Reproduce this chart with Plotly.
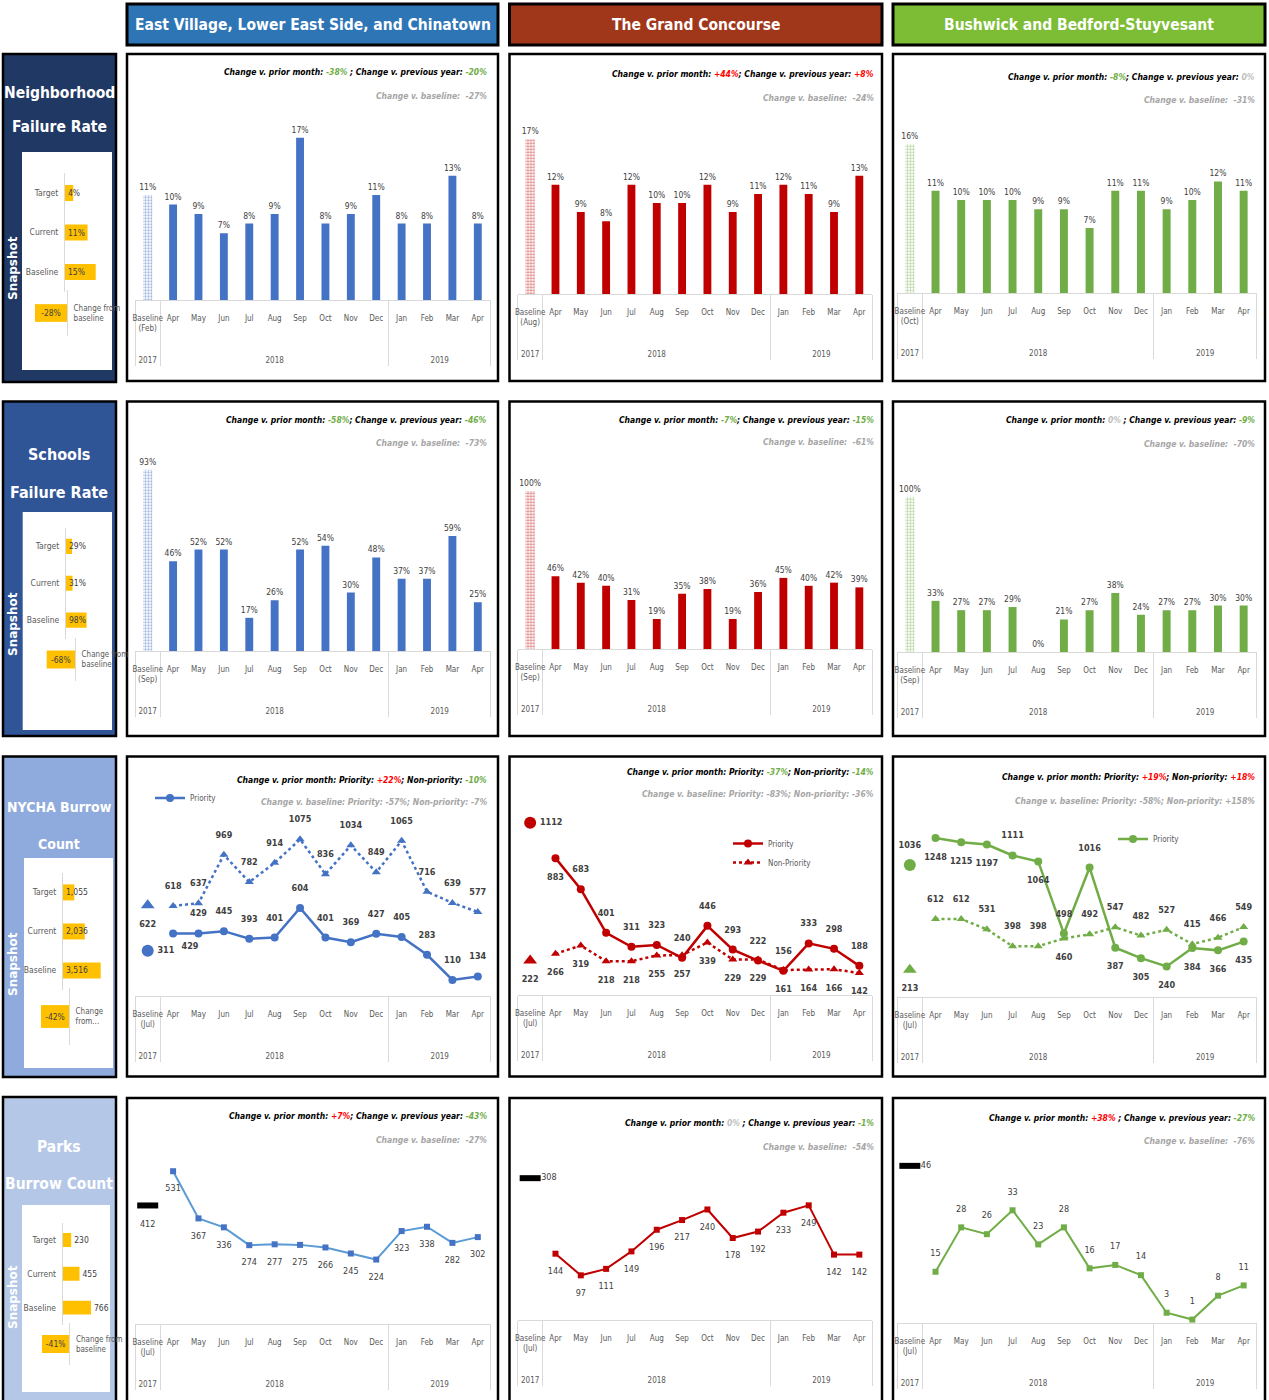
import plotly.graph_objects as go

# ======================= DATA =======================
regions = ["East Village, Lower East Side, and Chinatown",
           "The Grand Concourse",
           "Bushwick and Bedford-Stuyvesant"]
metric_titles = [["Neighborhood", "Failure Rate"], ["Schools", "Failure Rate"],
                 ["NYCHA Burrow", "Count"], ["Parks", "Burrow Count"]]
months = ["Apr", "May", "Jun", "Jul", "Aug", "Sep", "Oct", "Nov", "Dec", "Jan", "Feb", "Mar", "Apr"]
month_years = ["2018"] * 9 + ["2019"] * 4
baseline_year = "2017"

# Neighborhood failure rate
nfr_baseline_month = ["Feb", "Aug", "Oct"]
nfr_baseline = [0.11, 0.17, 0.16]
nfr_ev = [0.10, 0.09, 0.07, 0.08, 0.09, 0.17, 0.08, 0.09, 0.11, 0.08, 0.08, 0.13, 0.08]
nfr_gc = [0.12, 0.09, 0.08, 0.12, 0.10, 0.10, 0.12, 0.09, 0.11, 0.12, 0.11, 0.09, 0.13]
nfr_bb = [0.11, 0.10, 0.10, 0.10, 0.09, 0.09, 0.07, 0.11, 0.11, 0.09, 0.10, 0.12, 0.11]
nfr_prior = ["-38%", "+44%", "-8%"]
nfr_prev_year = ["-20%", "+8%", "0%"]
nfr_vs_base = ["-27%", "-24%", "-31%"]

# Schools failure rate
sfr_baseline_month = ["Sep", "Sep", "Sep"]
sfr_baseline = [0.93, 1.00, 1.00]
sfr_ev = [0.46, 0.52, 0.52, 0.17, 0.26, 0.52, 0.54, 0.30, 0.48, 0.37, 0.37, 0.59, 0.25]
sfr_gc = [0.46, 0.42, 0.40, 0.31, 0.19, 0.35, 0.38, 0.19, 0.36, 0.45, 0.40, 0.42, 0.39]
sfr_bb = [0.33, 0.27, 0.27, 0.29, 0.00, 0.21, 0.27, 0.38, 0.24, 0.27, 0.27, 0.30, 0.30]
sfr_prior = ["-58%", "-7%", "0%"]
sfr_prev_year = ["-46%", "-15%", "-9%"]
sfr_vs_base = ["-73%", "-61%", "-70%"]

# NYCHA burrow count
nycha_baseline_month = ["Jul", "Jul", "Jul"]
nycha_pri_baseline = [311, 1112, 1036]
nycha_non_baseline = [622, 222, 213]
nycha_pri_ev = [429, 429, 445, 393, 401, 604, 401, 369, 427, 405, 283, 110, 134]
nycha_non_ev = [618, 637, 969, 782, 914, 1075, 836, 1034, 849, 1065, 716, 639, 577]
nycha_pri_gc = [883, 683, 401, 311, 323, 240, 446, 293, 222, 156, 333, 298, 188]
nycha_non_gc = [266, 319, 218, 218, 255, 257, 339, 229, 229, 161, 164, 166, 142]
nycha_pri_bb = [1248, 1215, 1197, 1111, 1064, 498, 1016, 387, 305, 240, 384, 366, 435]
nycha_non_bb = [612, 612, 531, 398, 398, 460, 492, 547, 482, 527, 415, 466, 549]
nycha_prior_pri = ["+22%", "-37%", "+19%"]
nycha_prior_non = ["-10%", "-14%", "+18%"]
nycha_base_pri = ["-57%", "-83%", "-58%"]
nycha_base_non = ["-7%", "-36%", "+158%"]

# Parks burrow count
parks_baseline_month = ["Jul", "Jul", "Jul"]
parks_baseline = [412, 308, 46]
parks_ev = [531, 367, 336, 274, 277, 275, 266, 245, 224, 323, 338, 282, 302]
parks_gc = [144, 97, 111, 149, 196, 217, 240, 178, 192, 233, 249, 142, 142]
parks_bb = [15, 28, 26, 33, 23, 28, 16, 17, 14, 3, 1, 8, 11]
parks_prior = ["+7%", "0%", "+38%"]
parks_prev_year = ["-43%", "-1%", "-27%"]
parks_vs_base = ["-27%", "-54%", "-76%"]

# Snapshot side panels
snapshot_labels = ["Target", "Current", "Baseline"]
snap_nfr = [0.04, 0.11, 0.15]
snap_sfr = [0.29, 0.31, 0.98]
snap_nycha = [1055, 2036, 3516]
snap_parks = [230, 455, 766]
snap_change = [-0.28, -0.68, -0.42, -0.41]
snap_change_labels = ["Change from<br>baseline", "Change from<br>baseline",
                      "Change<br>from...", "Change from<br>baseline"]

# ======================= STYLE / GEOMETRY =======================
W, H = 1269, 1400
NARROW = "DejaVu Sans Condensed, Liberation Sans Narrow, sans-serif"
AXIS_GRAY = "#D9D9D9"
TICK_GRAY = "#595959"
LABEL_GRAY = "#404040"
GOLD = "#FFC000"
HEADER_FILL = ["#2E75B6", "#A0361A", "#7CBD35"]
SERIES_COLOR = ["#4472C4", "#C00000", "#70AD47"]
SIDEBAR_FILL = ["#1F3864", "#2F5597", "#8FAADC", "#B4C7E7"]

COL_PANEL = [(127, 498), (509.5, 882), (893, 1265)]
COL_PLOT = [(135, 490.5), (517.5, 872), (897, 1256.5)]
ROW_PANEL = [(54, 381), (401.5, 736), (756.5, 1076.5), (1098, 1402)]
ROW_TOP = [100, 450, 810, 1150]
ROW_BOTTOM = [[300, 294, 293], [651, 649, 652], [996, 995, 997], [1324, 1320, 1323]]
ROW_SCALE = [[955, 910, 930], [195, 158, 155], [0.1457, 0.155, 0.1274], [0.2877, 0.4605, 3.416]]
ANN_Y = [[(72, 96), (74, 98), (77, 100)],
         [(420, 443), (420, 442), (420, 444)],
         [(780, 802), (772, 794), (777, 801)],
         [(1116, 1140), (1123, 1147), (1118, 1141)]]
ANN_X = [489, 876, 1257]
ANN_SIZE = 8.5
LABEL_GAP_MARKER = 22   # invisible marker size that sets label distance on line charts
NBSP = "\u00a0"

fig = go.Figure()
axes = {}
counter = [0]


def px_x(x):
    return x / W


def px_y(y):
    return 1 - y / H


def new_axes(xpx, ypx, xkw, ykw):
    counter[0] += 1
    n = counter[0]
    s = "" if n == 1 else str(n)
    axes["xaxis" + s] = dict(domain=[xpx[0] / W, xpx[1] / W], anchor="y" + s, **xkw)
    axes["yaxis" + s] = dict(domain=[1 - ypx[1] / H, 1 - ypx[0] / H], anchor="x" + s, **ykw)
    return "x" + s, "y" + s


N_CATS = 1 + len(months)


def cat_xaxis():
    return dict(type="multicategory", range=[-0.5, N_CATS - 0.5], autorange=False,
                showline=True, linecolor=AXIS_GRAY, linewidth=1,
                showgrid=False, zeroline=False, ticks="", tickangle=0, ticklabelstandoff=10,
                showdividers=True, dividercolor=AXIS_GRAY, dividerwidth=1,
                tickfont=dict(family=NARROW, size=8, color=TICK_GRAY), fixedrange=True)


def value_yaxis(r, c):
    rng = (ROW_BOTTOM[r][c] - ROW_TOP[r]) / ROW_SCALE[r][c]
    return dict(range=[0, rng], visible=False, fixedrange=True)


def year_label(y):
    # blank leading lines push the year row down, as in the reference
    return (NBSP + "<br>") * 3 + y


def base_key(m):
    return [[year_label(baseline_year)], [f"Baseline<br>({m})"]]


def month_key():
    # second "Apr" (2019) gets an invisible suffix so it sorts after Jan-Mar
    seen, lvl2 = set(), []
    for m in months:
        lab = m
        while lab in seen:
            lab += "\u200b"
        seen.add(lab)
        lvl2.append(lab)
    return [[year_label(y) for y in month_years], lvl2]


def signed(s):
    col = "#FF0000" if s.startswith("+") else ("#70AD47" if s.startswith("-") else "#BFBFBF")
    return f"<span style='color:{col}'>{s}</span>"


def change_notes(r, c, line1, line2):
    y1, y2 = ANN_Y[r][c]
    fig.add_annotation(x=px_x(ANN_X[c]), y=px_y(y1), xref="paper", yref="paper",
                       xanchor="right", yanchor="middle", showarrow=False, text=line1,
                       font=dict(family=NARROW, size=ANN_SIZE, color="#000000"))
    fig.add_annotation(x=px_x(ANN_X[c]), y=px_y(y2), xref="paper", yref="paper",
                       xanchor="right", yanchor="middle", showarrow=False, text=line2,
                       font=dict(family=NARROW, size=ANN_SIZE, color="#A6A6A6"))


def value_labels(xa, ya, x, y, pos, font, gap=LABEL_GAP_MARKER):
    fig.add_trace(go.Scatter(x=x, y=y, mode="markers+text", xaxis=xa, yaxis=ya,
                             marker=dict(size=gap, opacity=0),
                             texttemplate="%{y}", textposition=pos, textfont=font,
                             cliponaxis=False, showlegend=False, hoverinfo="skip"))


LABEL_FONT = dict(family=NARROW, size=8.5, color=LABEL_GRAY)


def bar_panel(r, c, bm, bval, vals):
    color = SERIES_COLOR[c]
    xa, ya = new_axes(COL_PLOT[c], (ROW_TOP[r], ROW_BOTTOM[r][c]), cat_xaxis(), value_yaxis(r, c))
    fig.add_trace(go.Bar(x=base_key(bm), y=[bval], width=0.37, xaxis=xa, yaxis=ya,
                         marker=dict(color="white", line=dict(width=0),
                                     pattern=dict(shape=".", fgcolor=color, bgcolor="white",
                                                  size=3, solidity=0.45)),
                         texttemplate="%{y:.0%}", textposition="outside", constraintext="none",
                         textangle=0, cliponaxis=False, textfont=LABEL_FONT, showlegend=False,
                         hoverinfo="skip"))
    fig.add_trace(go.Bar(x=month_key(), y=vals, width=0.31, xaxis=xa, yaxis=ya,
                         marker=dict(color=color, line=dict(width=0)),
                         texttemplate="%{y:.0%}", textposition="outside", constraintext="none",
                         textangle=0, cliponaxis=False, textfont=LABEL_FONT, showlegend=False))


# ---------- row 1 & 2: bar charts ----------
nfr_vals = [nfr_ev, nfr_gc, nfr_bb]
sfr_vals = [sfr_ev, sfr_gc, sfr_bb]
for c in range(3):
    bar_panel(0, c, nfr_baseline_month[c], nfr_baseline[c], nfr_vals[c])
    sep = " ; " if c == 0 else "; "
    change_notes(0, c,
                 f"<b><i>Change v. prior month: {signed(nfr_prior[c])}{sep}Change v. previous year: {signed(nfr_prev_year[c])}</i></b>",
                 f"<b><i>Change v. baseline:  {nfr_vs_base[c]}</i></b>")
for c in range(3):
    bar_panel(1, c, sfr_baseline_month[c], sfr_baseline[c], sfr_vals[c])
    sep = " ; " if c == 2 else "; "
    change_notes(1, c,
                 f"<b><i>Change v. prior month: {signed(sfr_prior[c])}{sep}Change v. previous year: {signed(sfr_prev_year[c])}</i></b>",
                 f"<b><i>Change v. baseline:  {sfr_vs_base[c]}</i></b>")

# ---------- row 3: NYCHA lines ----------
pri_vals = [nycha_pri_ev, nycha_pri_gc, nycha_pri_bb]
non_vals = [nycha_non_ev, nycha_non_gc, nycha_non_bb]
TP, BT, MR, BR = "top center", "bottom center", "middle right", "bottom right"
POS_PRI = [[BR] + [TP] * 12,
           [BT] + [TP] * 12,
           [BT, BT, BT, TP, BT, TP, TP, BT, BT, BT, BT, BT, BT]]
GAP_PRI = [[12] + [LABEL_GAP_MARKER] * 12, LABEL_GAP_MARKER, LABEL_GAP_MARKER]
POS_NON = [[TP] * 13, [BT] * 13, [TP] * 5 + [BT] + [TP] * 7]
BASE_PRI_POS = [MR, MR, TP]
BASE_PRI_GAP = [14, 14, 22]
LEGENDS = ["legend", "legend2", "legend3"]
BOLD_LABEL = dict(family=NARROW, size=9, color=LABEL_GRAY, weight="bold")

for c in range(3):
    color = SERIES_COLOR[c]
    xa, ya = new_axes(COL_PLOT[c], (ROW_TOP[2], ROW_BOTTOM[2][c]), cat_xaxis(), value_yaxis(2, c))
    bk = base_key(nycha_baseline_month[c])
    mk = month_key()
    fig.add_trace(go.Scatter(x=bk, y=[nycha_pri_baseline[c]], mode="markers", xaxis=xa, yaxis=ya,
                             marker=dict(symbol="circle", size=12, color=color),
                             cliponaxis=False, showlegend=False, hoverinfo="skip"))
    fig.add_trace(go.Scatter(x=bk, y=[nycha_non_baseline[c]], mode="markers", xaxis=xa, yaxis=ya,
                             marker=dict(symbol="triangle-up", size=12, color=color),
                             cliponaxis=False, showlegend=False, hoverinfo="skip"))
    fig.add_trace(go.Scatter(x=mk, y=non_vals[c], mode="lines+markers", name="Non-Priority",
                             xaxis=xa, yaxis=ya, legend=LEGENDS[c], legendgroup=f"non{c}",
                             legendrank=2,
                             line=dict(color=color, width=2.5, dash="dot"),
                             marker=dict(symbol="triangle-up", size=8, color=color),
                             cliponaxis=False, showlegend=(c == 1)))
    fig.add_trace(go.Scatter(x=mk, y=pri_vals[c], mode="lines+markers", name="Priority",
                             xaxis=xa, yaxis=ya, legend=LEGENDS[c], legendgroup=f"pri{c}",
                             legendrank=1,
                             line=dict(color=color, width=2.5),
                             marker=dict(symbol="circle", size=8, color=color),
                             cliponaxis=False, showlegend=True))
    value_labels(xa, ya, bk, [nycha_pri_baseline[c]], BASE_PRI_POS[c], BOLD_LABEL, gap=BASE_PRI_GAP[c])
    value_labels(xa, ya, bk, [nycha_non_baseline[c]], BT, BOLD_LABEL)
    value_labels(xa, ya, mk, non_vals[c], POS_NON[c], BOLD_LABEL)
    value_labels(xa, ya, mk, pri_vals[c], POS_PRI[c], BOLD_LABEL, gap=GAP_PRI[c])
    change_notes(2, c,
                 f"<b><i>Change v. prior month: Priority: {signed(nycha_prior_pri[c])}; Non-priority: {signed(nycha_prior_non[c])}</i></b>",
                 f"<b><i>Change v. baseline: Priority: {nycha_base_pri[c]}; Non-priority: {nycha_base_non[c]}</i></b>")

# ---------- row 4: Parks lines ----------
parks_vals = [parks_ev, parks_gc, parks_bb]
PARKS_LINE = ["#5B9BD5", "#C00000", "#70AD47"]
PARKS_POS = [BT, BT, TP]
PARKS_BASE_POS = [BT, MR, MR]
PARKS_FONT = dict(family=NARROW, size=9, color=LABEL_GRAY)
for c in range(3):
    xa, ya = new_axes(COL_PLOT[c], (ROW_TOP[3], ROW_BOTTOM[3][c]), cat_xaxis(), value_yaxis(3, c))
    bk = base_key(parks_baseline_month[c])
    mk = month_key()
    fig.add_trace(go.Scatter(x=bk, y=[parks_baseline[c]], mode="markers", xaxis=xa, yaxis=ya,
                             marker=dict(symbol="line-ew", size=15, line=dict(color="black", width=6)),
                             cliponaxis=False, showlegend=False, hoverinfo="skip"))
    fig.add_trace(go.Scatter(x=mk, y=parks_vals[c], mode="lines+markers",
                             xaxis=xa, yaxis=ya,
                             line=dict(color=PARKS_LINE[c], width=2),
                             marker=dict(symbol="square", size=6, color=SERIES_COLOR[c]),
                             cliponaxis=False, showlegend=False))
    value_labels(xa, ya, bk, [parks_baseline[c]], PARKS_BASE_POS[c], PARKS_FONT,
                 gap=22 if c == 0 else 16)
    value_labels(xa, ya, mk, parks_vals[c], PARKS_POS[c], PARKS_FONT, gap=20)
    sep = "; " if c == 0 else " ; "
    change_notes(3, c,
                 f"<b><i>Change v. prior month: {signed(parks_prior[c])}{sep}Change v. previous year: {signed(parks_prev_year[c])}</i></b>",
                 f"<b><i>Change v. baseline:  {parks_vs_base[c]}</i></b>")

# ---------- snapshot side charts ----------
snap_vals = [snap_nfr, snap_sfr, snap_nycha, snap_parks]
snap_fmt = ["%{x:.0%}", "%{x:.0%}", "%{x:,}", "%{x}"]
snap_textpos = ["inside", "inside", "inside", "outside"]
SNAP_X = [(65, 110), (66, 110), (63, 112), (62.7, 108)]
SNAP_Y = [(173.25, 291.75), (528, 638.5), (872.9, 990), (1223, 1324.6)]
SNAP_XSCALE = [205, 21, 0.01072, 0.03695]
CHG_X = [(22, 67), (22.7, 75), (24, 69), (22, 69.3)]
CHG_Y = [(290, 336), (638, 681), (988, 1045), (1323, 1365)]
CHG_BAR_PX = [32, 28.3, 28, 27.3]
CHG_BAR_W = [0.385, 0.42, 0.4, 0.43]

for r in range(4):
    xr = (SNAP_X[r][1] - SNAP_X[r][0]) / SNAP_XSCALE[r]
    xa, ya = new_axes(SNAP_X[r], SNAP_Y[r],
                      dict(range=[0, xr], visible=False, fixedrange=True),
                      dict(type="category", autorange="reversed", showline=True, linecolor=AXIS_GRAY,
                           showgrid=False, zeroline=False, ticks="", ticklabelstandoff=4,
                           tickfont=dict(family=NARROW, size=8.5, color=TICK_GRAY), fixedrange=True))
    fig.add_trace(go.Bar(x=snap_vals[r], y=snapshot_labels, orientation="h", width=0.41,
                         xaxis=xa, yaxis=ya, marker=dict(color=GOLD, line=dict(width=0)),
                         texttemplate=snap_fmt[r], textposition=snap_textpos[r], textangle=0,
                         insidetextanchor="start", constraintext="none", cliponaxis=False,
                         textfont=dict(family=NARROW, size=8.5, color=LABEL_GRAY),
                         showlegend=False, hoverinfo="skip"))
    cw = CHG_X[r][1] - CHG_X[r][0]
    crange = snap_change[r] * cw / CHG_BAR_PX[r]
    xa, ya = new_axes(CHG_X[r], CHG_Y[r],
                      dict(range=[crange, 0], visible=False, fixedrange=True),
                      dict(type="category", side="right", showline=True, linecolor=AXIS_GRAY,
                           showgrid=False, zeroline=False, ticks="", ticklabelstandoff=4,
                           tickfont=dict(family=NARROW, size=8, color=TICK_GRAY), fixedrange=True))
    fig.add_trace(go.Bar(x=[snap_change[r]], y=[snap_change_labels[r]], orientation="h",
                         width=CHG_BAR_W[r], xaxis=xa, yaxis=ya,
                         marker=dict(color=GOLD, line=dict(width=0)),
                         texttemplate="%{x:.0%}", textposition="inside", insidetextanchor="middle",
                         textangle=0, constraintext="none", cliponaxis=False,
                         textfont=dict(family=NARROW, size=8.5, color=LABEL_GRAY),
                         showlegend=False, hoverinfo="skip"))

# ---------- shapes: headers, sidebars, panels ----------
shapes = []
HEADER_Y = (4, 45)
for c in range(3):
    x0, x1 = COL_PANEL[c]
    shapes.append(dict(type="rect", xref="paper", yref="paper", layer="below",
                       x0=px_x(x0), x1=px_x(x1), y0=px_y(HEADER_Y[1]), y1=px_y(HEADER_Y[0]),
                       fillcolor=HEADER_FILL[c], line=dict(color="black", width=3)))
    fig.add_annotation(x=px_x((x0 + x1) / 2), y=px_y(25), xref="paper", yref="paper",
                       showarrow=False, text=f"<b>{regions[c]}</b>", xanchor="center", yanchor="middle",
                       font=dict(family=NARROW, size=15.5, color="white"))
    for r in range(4):
        y0, y1 = ROW_PANEL[r]
        shapes.append(dict(type="rect", xref="paper", yref="paper", layer="below",
                           x0=px_x(x0), x1=px_x(x1), y0=px_y(y1), y1=px_y(y0),
                           fillcolor="white", line=dict(color="black", width=2.5)))

SIDEBAR_Y = [(54, 382), (401.5, 736), (756.5, 1077), (1097, 1403)]
WHITE_BOX = [((22, 112), (152, 370)), ((22.7, 112), (512, 730)),
             ((24, 113), (858, 1068)), ((22, 110), (1205, 1392))]
TITLE_Y = [(93, 127), (455, 492), (807, 844), (1147, 1184)]
TITLE_SIZE = [15.5, 16, 14, 15.5]
SNAPSHOT_Y = [268, 624, 964, 1297]
for r in range(4):
    y0, y1 = SIDEBAR_Y[r]
    shapes.append(dict(type="rect", xref="paper", yref="paper", layer="below",
                       x0=px_x(3), x1=px_x(116), y0=px_y(y1), y1=px_y(y0),
                       fillcolor=SIDEBAR_FILL[r], line=dict(color="black", width=2.5)))
    (wx0, wx1), (wy0, wy1) = WHITE_BOX[r]
    shapes.append(dict(type="rect", xref="paper", yref="paper", layer="below",
                       x0=px_x(wx0), x1=px_x(wx1), y0=px_y(wy1), y1=px_y(wy0),
                       fillcolor="white", line=dict(width=0)))
    for i, line in enumerate(metric_titles[r]):
        fig.add_annotation(x=px_x(59), y=px_y(TITLE_Y[r][i]), xref="paper", yref="paper",
                           showarrow=False, text=f"<b>{line}</b>", xanchor="center", yanchor="middle",
                           font=dict(family=NARROW, size=TITLE_SIZE[r], color="white"))
    fig.add_annotation(x=px_x(13), y=px_y(SNAPSHOT_Y[r]), xref="paper", yref="paper",
                       showarrow=False, text="<b>Snapshot</b>", textangle=-90,
                       xanchor="center", yanchor="middle",
                       font=dict(family="DejaVu Sans", size=12, color="white"))

legend_common = dict(xanchor="left", yanchor="middle", bgcolor="rgba(0,0,0,0)",
                     font=dict(family=NARROW, size=8, color=TICK_GRAY), itemwidth=30,
                     traceorder="normal")
fig.update_layout(
    width=W, height=H, margin=dict(l=0, r=0, t=0, b=0),
    paper_bgcolor="white", plot_bgcolor="rgba(0,0,0,0)",
    barmode="overlay", shapes=shapes,
    legend=dict(x=px_x(150), y=px_y(798), **legend_common),
    legend2=dict(x=px_x(728), y=px_y(853), tracegroupgap=20, **legend_common),
    legend3=dict(x=px_x(1113), y=px_y(839), **legend_common),
    **axes,
)
fig.write_html("out.html", config={"displayModeBar": False},
               post_script="document.body.style.margin='0px';")
